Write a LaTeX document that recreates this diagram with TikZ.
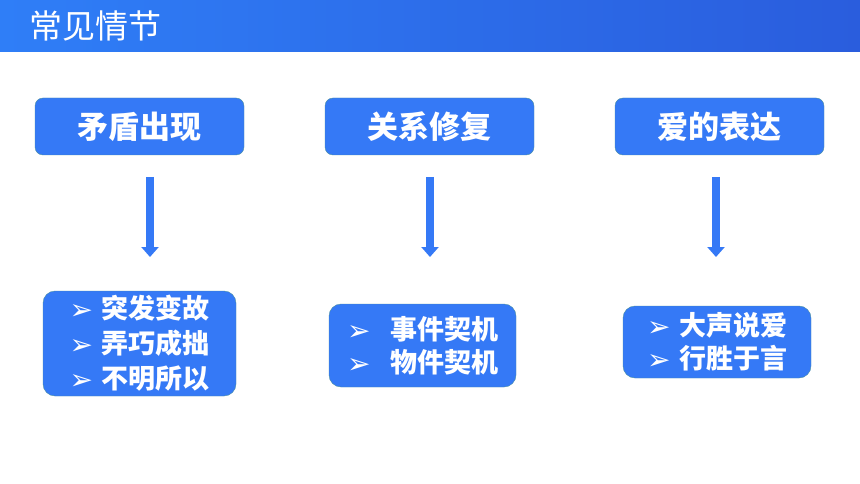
\documentclass[tikz,border=0pt]{standalone}
\usepackage{fontspec}
\newfontfamily\cjk{Noto Sans CJK SC}
\newfontfamily\dingfont{DejaVu Sans}
\usetikzlibrary{positioning,arrows.meta}
\definecolor{boxblue}{HTML}{3579F6}
\definecolor{boxedge}{HTML}{4A8FA0}
\definecolor{hdrleft}{HTML}{2F7EF7}
\definecolor{hdrmid}{HTML}{2248E1}
\definecolor{hdrright}{HTML}{2A5DDD}
% bullet with fixed room after it
\newcommand{\tip}[1][32pt]{\makebox[#1][l]{\raisebox{-1pt}{\dingfont\fontsize{28}{28}\selectfont ➢}}}
\tikzset{
  topbox/.style={draw=boxedge, fill=boxblue, rounded corners=8pt, text=white,
    minimum width=209pt, minimum height=57pt,
    font=\cjk\bfseries\fontsize{31}{31}\selectfont},
  listbox/.style={draw=boxedge, fill=boxblue, rounded corners=12pt, text=white,
    align=left, inner sep=0pt, font=\cjk\bfseries\fontsize{27}{35}\selectfont},
  downarrow/.style={boxblue, line width=8pt, -{Triangle[width=17pt,length=10pt]}}
}
\begin{document}
\begin{tikzpicture}[x=1pt, y=-1pt]
  \useasboundingbox (0,0) rectangle (860,484);
  % Header bar
  \shade[left color=hdrleft, middle color=hdrmid, right color=hdrright] (0,0) rectangle (860,52);
  \node[anchor=west, text=white, font=\cjk\fontsize{33}{33}\selectfont] (title) at (26,26) {常见情节};
  % Top boxes
  \node[topbox] (conflict) at (139.5,126.5) {矛盾出现};
  \node[topbox] (repair) at (429.5,126.5) {关系修复};
  \node[topbox] (love) at (719.5,126.5) {爱的表达};
  % Bottom boxes
  \node[listbox, minimum width=193pt, minimum height=105pt] (conflictlist) at (139.5,343.5)
    {\tip 突发变故\\ \tip 弄巧成拙\\ \tip 不明所以};
  \node[listbox, minimum width=187pt, minimum height=83pt, font=\cjk\bfseries\fontsize{27}{33}\selectfont] (repairlist) at (422.5,345.5)
    {\tip[43pt]事件契机\\ \tip[43pt]物件契机};
  \node[listbox, minimum width=188pt, minimum height=72pt, font=\cjk\bfseries\fontsize{27}{33}\selectfont] (lovelist) at (717,342)
    {\tip 大声说爱\\ \tip 行胜于言};
  % Arrows between the rows
  \coordinate (a1) at (150,177);
  \coordinate (b1) at (150,257);
  \coordinate (a2) at (430,177);
  \coordinate (b2) at (430,257);
  \coordinate (a3) at (716,177);
  \coordinate (b3) at (716,257);
  \foreach \i in {1,2,3} {
    \draw[downarrow] (a\i) -- (b\i);
  }
\end{tikzpicture}
\end{document}
